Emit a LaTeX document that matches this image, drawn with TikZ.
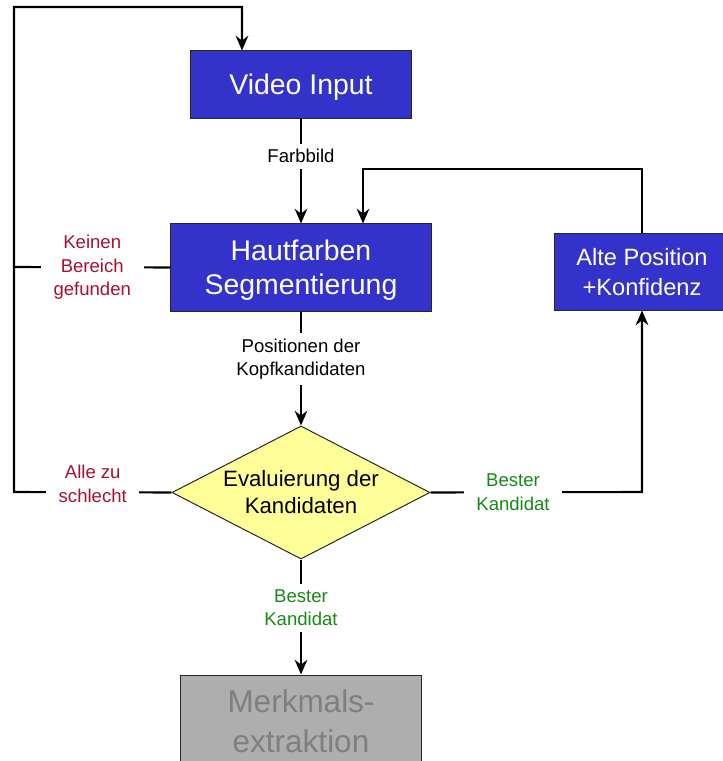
\documentclass[tikz,border=0pt]{standalone}
\usepackage{fontspec}
\setmainfont{Liberation Sans}
\usetikzlibrary{shapes.geometric,arrows.meta}
\definecolor{boxblue}{HTML}{3333CC}
\definecolor{evalyellow}{HTML}{FFFF99}
\definecolor{boxgray}{HTML}{AEAEAE}
\definecolor{textgray}{HTML}{7F7F7F}
\definecolor{labred}{HTML}{A8102F}
\definecolor{labgreen}{HTML}{168A16}

\begin{document}
\begin{tikzpicture}[x=0.025cm,y=-0.025cm,
    blockbox/.style={draw=black!85,line width=0.7pt,fill=boxblue,text=white,align=center,inner sep=0,font=\fontsize{20.2}{24.2}\selectfont},
    edgelabel/.style={fill=white,align=center,inner xsep=9pt,inner ysep=4pt,font=\fontsize{13.2}{16.7}\selectfont},
    flowline/.style={line width=1.5pt},
    flow/.style={flowline,-{Stealth[length=10.5pt,width=9pt,inset=3.5pt]}}]
  \useasboundingbox (0,0) rectangle (722,761);

  % blocks
  \node[blockbox,minimum width=5.5cm,minimum height=1.675cm,text depth=0pt] (video) at (301,84.5) {Video Input};
  \node[blockbox,minimum width=6.5cm,minimum height=2.175cm,text depth=0pt] (haut) at (301,267.5) {Hautfarben\\Segmentierung};
  \node[blockbox,minimum width=4.35cm,minimum height=1.9cm,font=\fontsize{16.8}{21.3}\selectfont] (alte) at (642,272) {Alte Position\\+Konfidenz};
  \node[diamond,draw=black!85,line width=0.7pt,fill=evalyellow,inner sep=0,minimum width=6.45cm,minimum height=3.325cm,
    label={[align=center,font=\fontsize{15.8}{19.2}\selectfont]center:Evaluierung der\\Kandidaten}] (eval) at (301,492.5) {};
  \node[draw=black!85,line width=0.7pt,fill=boxgray,text=textgray,align=center,inner sep=0,minimum width=6cm,minimum height=2.3cm,
    font=\fontsize{22.4}{28.4}\selectfont] (merkmal) at (301,721) {Merkmals-\\extraktion};

  % connectors
  \draw[flow] (video) -- node[edgelabel,pos=0.36] (farb) {Farbbild} (haut);
  \draw[flow] (haut) -- node[edgelabel,pos=0.42] (kopf) {Positionen der\\Kopfkandidaten} (eval);
  \draw[flow] (eval) -- node[edgelabel,pos=0.42,text=labgreen] (bestdown) {Bester\\Kandidat} (merkmal);
  \draw[flow] (eval.east) -- node[edgelabel,pos=0.39,text=labgreen] (bestright) {Bester\\Kandidat} (642,492) -- (alte.south);
  \draw[flow] (alte.north) -- (642,169) -| ([xshift=1.55cm]haut.north);
  \draw[flowline] (haut.west) -- node[edgelabel,text=labred] (keinen) {Keinen\\Bereich\\gefunden} (14,267);
  \draw[flow] (eval.west) -- node[edgelabel,text=labred,yshift=6pt] (schlecht) {Alle zu\\schlecht} (14,492)
    -- (14,7) -| ([xshift=-1.475cm]video.north);
\end{tikzpicture}
\end{document}
